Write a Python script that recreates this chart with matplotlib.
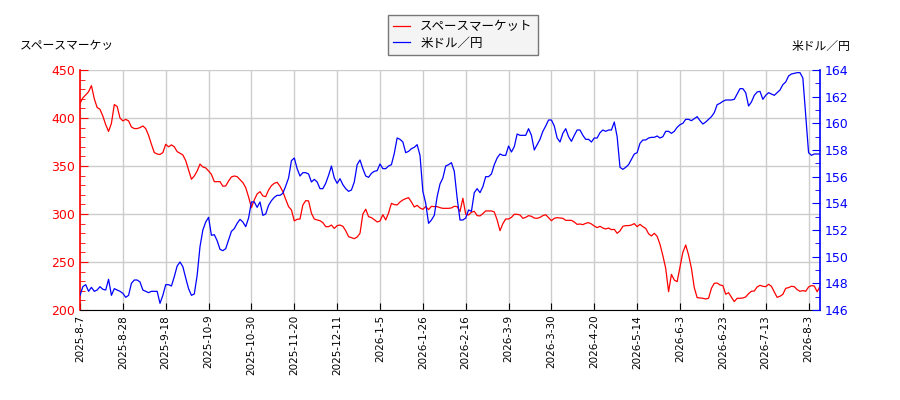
import numpy as np
import matplotlib.pyplot as plt
from matplotlib.ticker import MultipleLocator

plt.rcParams['font.family'] = ['DejaVu Sans', 'Noto Sans CJK JP']

# daily closes, one value per trading day
space_market = [
    415.3, 421, 424, 427.4, 433.7, 420, 411, 409, 402, 393, 386, 394.5, 414, 412, 400, 397, 398.6, 397,
    390.6, 389, 389, 390, 391.7, 389, 382, 372.6, 364, 362.5, 362, 364, 372.6, 370, 372, 370,
    365, 363.2, 361.5, 355.6, 346, 336.2, 339.6, 344.8, 352, 349, 348, 344.8, 341.3, 333.7, 333.7, 333.7,
    328.9, 329.2, 334.4, 338.6, 339.6, 338.9, 335.8, 332.7, 327.5, 317.8, 306.7, 314.7, 320.9, 323.3, 318.8, 318.1,
    325, 329.5, 332, 333, 328.9, 323.3, 315.3, 307.7, 304.2, 292.8, 294.5, 294.8, 309.4, 313.9, 313.6, 300.8,
    294.8, 293.8, 293, 291, 286.8, 286.8, 288.5, 285, 287.9, 288.5, 287.2, 282.6, 276.4, 275.4, 274.3, 276, 279.9, 300,
    305, 297.2, 296.2, 294.1, 291.7, 292.7, 299.3, 293.8, 301.1, 311.1, 309.8, 309.4, 312.5, 314.6, 316, 317,
    312.5, 307.3, 309, 306.3, 304.9, 307.7, 304.6, 308, 307.7, 307.7, 306.6, 305.9, 305.9, 305.9, 306.3, 308, 307.7,
    302.5, 316.4, 299.7, 299, 301.8, 302.8, 298.3, 298, 300.4, 303.2, 303.2, 303.2, 302.1, 293.8, 282.6, 289.9, 294.8,
    294.8, 296.5, 299.7, 299.7, 299, 295.5, 296.5, 298.3, 297.6, 295.8, 295.5, 296.5, 298.3, 299.3, 296.2, 293, 295.5,
    296.2, 295.8, 295.5, 293.4, 293.4, 293.4, 291.7, 289.2, 289.6, 288.9, 290.3, 291, 289.6, 287.5, 285.8, 287.2,
    285.4, 284.4, 285.4, 283.7, 284, 279.9, 282.4, 287.2, 287.9, 287.9, 288.5, 290, 286.8, 289.2, 286.8, 285, 279.5,
    277.1, 279.9, 276.7, 268.4, 256.6, 243.4, 219.1, 237.1, 231.2, 229.5, 245.1, 260.1, 267.7, 257.3, 243.4, 223.3,
    212.9, 212.5, 212.2, 211.5, 212.2, 222.6, 227.8, 228.1, 226.1, 225.4, 216.4, 218.1, 213.3, 208.8, 212.2, 212.2, 212.5,
    213.6, 217, 219.5, 219.8, 224, 225.7, 224.7, 224.3, 226.8, 224.7, 218.8, 213.2, 214.3, 216.3, 222.6, 223.3,
    224.7, 224.3, 221.2, 219.5, 220.2, 219.5, 224, 225.4, 225, 219, 224.5,
]

usd_jpy = [
    147.1, 147.75, 147.9, 147.4, 147.7, 147.4, 147.5, 147.75, 147.55, 147.5, 148.3, 147.1, 147.6, 147.5, 147.4,
    147.25, 146.95, 147.1, 148.0, 148.25, 148.25, 148.1, 147.5, 147.4, 147.3, 147.4, 147.4, 147.4, 146.5, 147.1,
    147.9, 147.9, 147.8, 148.5,
    149.3, 149.6, 149.25, 148.4, 147.6, 147.1, 147.2, 148.6, 150.75, 152.0, 152.6, 152.95, 151.6, 151.65, 151.2,
    150.55, 150.45, 150.6, 151.25, 151.9, 152.1, 152.5, 152.8, 152.6, 152.25, 152.9, 154.1, 154.1, 153.7, 154.1,
    153.1, 153.2,
    153.85, 154.2, 154.45, 154.6, 154.6, 154.75, 155.3, 155.9, 157.2, 157.4, 156.6, 156.05, 156.3, 156.3, 156.2,
    155.6, 155.8, 155.6, 155.1, 155.1, 155.5, 156.1, 156.8, 155.9, 155.5, 155.85, 155.4, 155.1, 154.9, 155.0,
    155.6, 156.9, 157.25, 156.6,
    156.05, 155.95, 156.25, 156.4, 156.45, 156.95, 156.6, 156.6, 156.8, 156.9, 157.75, 158.9, 158.8, 158.6, 157.8,
    157.9, 158.1, 158.2, 158.4, 157.6, 154.9, 154.0, 152.5, 152.75, 153.1, 154.5, 155.45, 155.9, 156.8, 156.9,
    157.05, 156.4, 154.4,
    152.75, 152.75, 152.9, 153.5, 153.4, 154.8, 155.1, 154.8, 155.25, 156.0, 156.0, 156.2, 156.9, 157.4, 157.7,
    157.6, 157.6, 158.3, 157.85, 158.25, 159.2, 159.1, 159.1, 159.1, 159.6, 159.1, 158.0, 158.4, 158.8, 159.4,
    159.8, 160.25, 160.25, 159.8,
    158.9, 158.6, 159.25, 159.6, 159.0, 158.65, 159.1, 159.5, 159.5, 159.1, 158.8, 158.8, 158.6, 158.9, 158.9,
    159.3, 159.5, 159.4, 159.5, 159.5, 160.1, 159.0, 156.7, 156.55, 156.7, 156.9, 157.3, 157.7, 157.8, 158.5,
    158.75, 158.75, 158.9,
    158.95, 158.95, 159.05, 158.9, 159.0, 159.4, 159.4, 159.25, 159.4, 159.7, 159.9, 160.0, 160.3, 160.3, 160.2,
    160.35, 160.5, 160.2, 159.95, 160.1, 160.3, 160.5, 160.8, 161.4, 161.5, 161.65, 161.75, 161.75, 161.75, 161.8,
    162.2, 162.6, 162.6,
    162.3, 161.3, 161.6, 162.1, 162.35, 162.4, 161.8, 162.1, 162.3, 162.2, 162.1, 162.3, 162.5, 162.9, 163.1,
    163.55, 163.7, 163.75, 163.8, 163.8, 163.4, 160.6, 157.8, 157.6, 157.7, 157.7, 157.7,
]

tick_labels = ['2025-8-7', '2025-8-28', '2025-9-18', '2025-10-9', '2025-10-30', '2025-11-20',
               '2025-12-11', '2026-1-5', '2026-1-26', '2026-2-16', '2026-3-9', '2026-3-30',
               '2026-4-20', '2026-5-14', '2026-6-3', '2026-6-23', '2026-7-13', '2026-8-3']
tick_step = 15  # trading days between labels

fig = plt.figure(figsize=(9, 4), dpi=100)
ax = fig.add_axes([80 / 900, 90 / 400, 740 / 900, 240 / 400])
ax2 = ax.twinx()

x = np.arange(len(space_market))
l1, = ax.plot(x, space_market, color='red', lw=0.9)
l2, = ax2.plot(x, usd_jpy, color='blue', lw=0.9)

ax.set_xlim(0, len(x) - 1)
ax.set_ylim(200, 450)
ax2.set_ylim(146, 164)

ax.set_xticks(np.arange(len(tick_labels)) * tick_step)
ax.set_xticklabels(tick_labels, rotation=90, fontsize=7.5)
ax.yaxis.set_major_locator(MultipleLocator(50))
ax.yaxis.set_minor_locator(MultipleLocator(10))
ax2.yaxis.set_major_locator(MultipleLocator(2))
ax2.yaxis.set_minor_locator(MultipleLocator(1))

ax.grid(True, color='#cccccc', lw=1)
ax.set_axisbelow(True)

ax.tick_params(axis='x', direction='in', length=5, labelsize=7.5)
ax.tick_params(axis='y', which='major', direction='in', length=6, color='red', labelcolor='red', labelsize=9)
ax.tick_params(axis='y', which='minor', direction='in', length=3.5, color='red')
ax2.tick_params(axis='y', which='major', direction='in', length=6, color='blue', labelcolor='blue', labelsize=9)
ax2.tick_params(axis='y', which='minor', direction='in', length=3.5, color='blue')

for a in (ax, ax2):
    a.spines['top'].set_visible(False)
ax.spines['right'].set_visible(False)
ax.spines['left'].set_color('red')
ax.spines['left'].set_linewidth(1.2)
ax2.spines['left'].set_visible(False)
ax2.spines['bottom'].set_visible(False)
ax2.spines['right'].set_color('blue')
ax2.spines['right'].set_linewidth(1.2)

fig.text(20 / 900, 1 - 46 / 400, 'スペースマーケッ', fontsize=8.5, ha='left', va='center')
fig.text(850 / 900, 1 - 46 / 400, '米ドル／円', fontsize=8.5, ha='right', va='center')

fig.legend([l1, l2], ['スペースマーケット', '米ドル／円'], loc='upper center',
           bbox_to_anchor=(0.514, 0.978), fontsize=9, fancybox=False, framealpha=1,
           facecolor='#f4f4f4', edgecolor='#777777', handlelength=1.4, handletextpad=0.8,
           borderpad=0.4, labelspacing=0.3)

fig.savefig('out.png', dpi=100)
